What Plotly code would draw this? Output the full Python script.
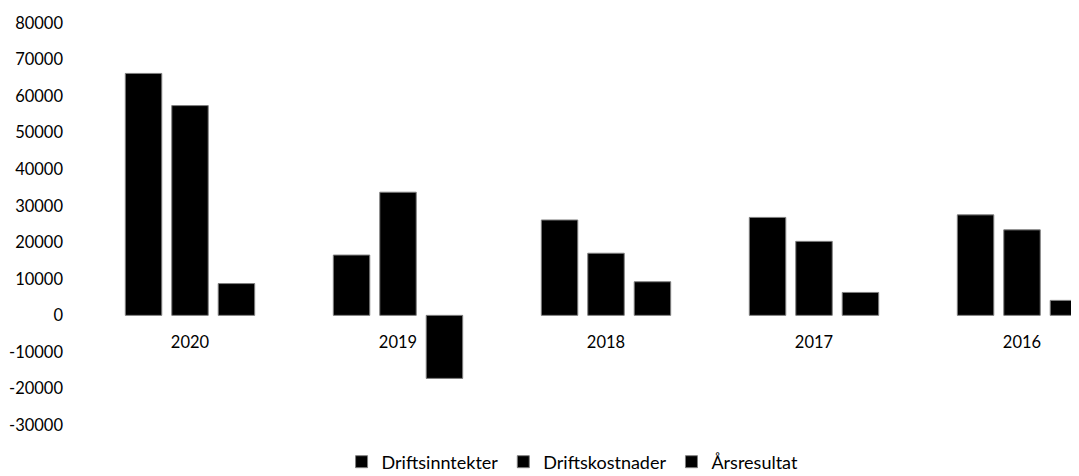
import plotly.graph_objects as go

years = ["2020", "2019", "2018", "2017", "2016"]
driftsinntekter = [66200, 16500, 26100, 26800, 27500]
driftskostnader = [57400, 33700, 17000, 20250, 23400]
arsresultat = [8700, -17250, 9200, 6270, 4100]
y_ticks = [80000, 70000, 60000, 50000, 40000, 30000, 20000, 10000, 0, -10000, -20000, -30000]

series = [("Driftsinntekter", driftsinntekter),
          ("Driftskostnader", driftskostnader),
          ("Årsresultat", arsresultat)]

fig = go.Figure()
for name, vals in series:
    fig.add_trace(go.Bar(
        x=years, y=vals, name=name,
        marker=dict(color="#000000", line=dict(color="#7f7f7f", width=1)),
    ))

FONT = "Lato"
FS = 16.5
ymin, ymax = -30000, 80000
fig.update_layout(
    width=1071, height=468,
    margin=dict(l=78, r=0, t=15, b=51, autoexpand=False),
    paper_bgcolor="white", plot_bgcolor="white",
    barmode="group", bargap=0.33, bargroupgap=0.215,
    font=dict(family=FONT, size=FS, color="#000000"),
    showlegend=True,
    legend=dict(orientation="h", x=0.49, xanchor="center", y=-0.092, yanchor="middle",
                font=dict(family=FONT, size=18, color="#000000"),
                traceorder="normal"),
    xaxis=dict(type="category", range=[-0.5, 4.274], showgrid=False, zeroline=False,
               showline=False, ticks="", anchor="free", automargin=False,
               position=(0 - ymin) / (ymax - ymin), ticklabelstandoff=15,
               tickfont=dict(family=FONT, size=FS, color="#000000")),
    yaxis=dict(range=[ymin, ymax], tickvals=y_ticks, ticktext=[str(v) for v in y_ticks],
               showgrid=False, zeroline=False, showline=False, ticks="", automargin=False,
               ticklabelstandoff=22,
               tickfont=dict(family=FONT, size=FS, color="#000000")),
)

fig.write_html("out.html")
